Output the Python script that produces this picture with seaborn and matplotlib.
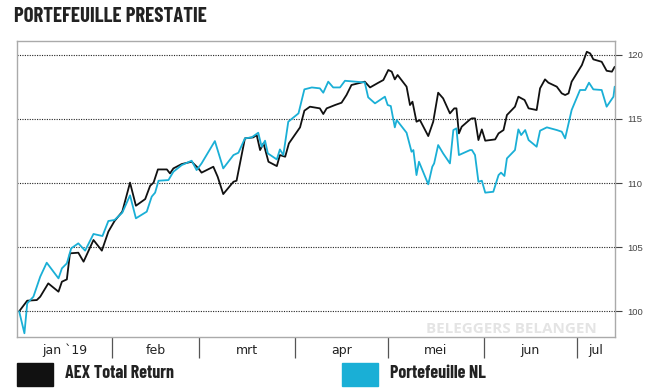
import pandas as pd
import numpy as np
import matplotlib
matplotlib.use('Agg')
import matplotlib.pyplot as plt
import matplotlib.dates as mdates
from matplotlib.patches import Rectangle
import seaborn as sns

START = pd.Timestamp('2019-01-01')

# days since 1 jan 2019 (line vertices), index values
aex_days = [1.0, 3.6, 6.7, 7.8, 10.4, 13.7, 14.8, 16.4, 17.4, 20.1, 21.8, 25.0, 27.7, 29.8,
            31.8, 34.3, 36.8, 38.7, 41.7, 43.3, 44.4, 45.8, 48.7, 49.7, 50.8, 53.5, 56.7,
            58.9, 59.9, 63.7, 65.1, 66.9, 70.2, 71.2, 73.9, 76.6, 77.7, 78.8, 79.9, 81.5,
            84.2, 85.2, 86.9, 88.1, 91.7, 93.1, 94.9, 98.1, 99.2, 100.3, 103.0, 105.1,
            106.7, 108.3, 112.6, 114.3, 117.0, 118.6, 120.2, 121.3, 122.3, 123.2, 126.1,
            127.2, 128.0, 129.3, 130.4, 133.1, 134.7, 136.3, 137.9, 140.1, 141.5, 142.2,
            143.0, 143.9, 146.6, 147.2, 148.2, 149.3, 150.4, 151.5, 154.7, 155.8, 157.4,
            158.5, 161.1, 162.2, 164.2, 165.5, 168.1, 169.2, 170.8, 171.9, 174.6, 176.2,
            177.3, 178.4, 179.4, 182.7, 184.3, 185.4, 186.4, 189.1, 190.7, 192.4, 193.3]
aex_values = [100.0, 100.83, 100.88, 101.14, 102.18, 101.53, 102.31, 102.49, 104.52, 104.57,
              103.87, 105.56, 104.73, 106.21, 107.04, 107.77, 110.03, 108.23, 108.75, 109.79,
              110.03, 111.06, 111.06, 110.75, 111.14, 111.48, 111.66, 111.14, 110.81, 111.27,
              110.49, 109.14, 110.10, 110.18, 113.48, 113.56, 113.74, 112.57, 113.09, 111.66,
              111.32, 112.18, 112.05, 113.09, 114.34, 115.64, 115.95, 115.82, 115.38, 115.82,
              116.08, 116.26, 116.86, 117.64, 117.90, 117.45, 117.82, 118.03, 118.81, 118.68,
              118.08, 118.42, 117.51, 116.08, 116.34, 114.78, 114.91, 113.66, 114.78, 117.04,
              116.60, 115.43, 115.82, 115.82, 113.87, 114.39, 114.96, 115.04, 115.04, 113.35,
              114.18, 113.30, 113.40, 113.87, 114.13, 115.30, 115.95, 116.73, 116.47, 115.82,
              115.69, 117.38, 118.08, 117.82, 117.51, 116.99, 116.86, 116.99, 117.90, 119.19,
              120.23, 120.10, 119.64, 119.45, 118.75, 118.68, 119.06]

nl_days = [1.0, 2.7, 3.6, 5.6, 7.8, 9.9, 13.7, 14.8, 16.4, 17.8, 20.1, 22.3, 25.0, 27.9,
           29.8, 31.8, 34.3, 36.8, 38.7, 42.2, 43.8, 44.9, 46.0, 49.2, 50.8, 53.5, 56.7,
           58.3, 59.9, 64.2, 66.9, 70.2, 71.8, 73.9, 76.1, 78.2, 79.3, 80.4, 81.3, 84.2,
           85.2, 86.3, 87.9, 91.2, 93.1, 95.5, 98.1, 99.2, 100.8, 102.4, 104.6, 106.2,
           112.6, 113.7, 115.9, 119.1, 120.0, 121.0, 122.3, 122.9, 126.1, 127.7, 128.3,
           129.3, 130.1, 133.1, 134.4, 135.0, 136.3, 137.9, 140.1, 141.2, 142.2, 143.0,
           146.6, 147.2, 148.2, 149.3, 150.4, 151.5, 154.1, 155.8, 156.6, 157.7, 158.5,
           161.1, 162.2, 163.1, 164.4, 165.5, 168.1, 169.2, 171.4, 174.6, 176.2, 177.3,
           179.4, 182.1, 183.8, 185.0, 186.4, 189.1, 190.7, 192.9, 193.3]
nl_values = [100.0, 98.29, 100.62, 101.14, 102.70, 103.79, 102.57, 103.35, 103.74, 104.91,
             105.30, 104.73, 106.03, 105.87, 107.04, 107.12, 107.69, 109.04, 107.25, 107.77,
             108.94, 109.25, 110.18, 110.23, 110.88, 111.40, 111.74, 111.01, 111.53, 113.27,
             111.14, 112.18, 112.36, 113.48, 113.56, 113.92, 112.83, 113.30, 112.31, 111.84,
             112.62, 112.18, 114.78, 115.43, 117.30, 117.45, 117.38, 117.04, 117.90, 117.45,
             117.45, 117.97, 117.84, 116.68, 116.21, 116.73, 116.08, 116.00, 114.34, 114.91,
             113.92, 112.44, 112.57, 110.62, 111.66, 109.90, 111.27, 111.53, 112.96, 112.31,
             111.53, 114.13, 114.26, 112.18, 112.57, 112.57, 112.18, 110.10, 110.18, 109.25,
             109.32, 110.62, 110.81, 110.55, 111.92, 112.57, 114.18, 113.74, 114.13, 113.35,
             112.83, 114.08, 114.34, 114.13, 114.00, 113.48, 115.69, 117.25, 117.25, 117.82,
             117.30, 117.25, 115.95, 116.73, 117.51]

series_names = ['AEX Total Return', 'Portefeuille NL']
series_colors = ['#111111', '#1aafd6']
month_labels = ['jan `19', 'feb', 'mrt', 'apr', 'mei', 'jun', 'jul']
y_ticks = [100, 105, 110, 115, 120]

df = pd.concat([
    pd.DataFrame({'datum': START + pd.to_timedelta(aex_days, unit='D'),
                  'waarde': aex_values, 'reeks': series_names[0]}),
    pd.DataFrame({'datum': START + pd.to_timedelta(nl_days, unit='D'),
                  'waarde': nl_values, 'reeks': series_names[1]}),
])

sns.set_theme(style='white')
plt.rcParams['font.family'] = ['Barlow Condensed', 'Liberation Sans', 'DejaVu Sans']

fig = plt.figure(figsize=(6.48, 3.91), dpi=100)
ax = fig.add_axes([17.3 / 648, 1 - 337 / 391, (615 - 17.3) / 648, (337 - 41) / 391])

sns.lineplot(data=df, x='datum', y='waarde', hue='reeks',
             palette=dict(zip(series_names, series_colors)),
             estimator=None, sort=False, linewidth=1.3, legend=False, ax=ax)

# x axis: months, labels centred between separators
x0 = START + pd.Timedelta(days=0.4)
x1 = START + pd.Timedelta(days=193.4)
ax.set_xlim(x0, x1)
bounds = pd.date_range('2019-02-01', '2019-07-01', freq='MS')
edges = mdates.date2num([x0] + list(bounds) + [x1])
mids = (edges[:-1] + edges[1:]) / 2
ax.set_xticks(mids)
ax.set_xticklabels(month_labels, fontsize=9, color='#222222', family=['DejaVu Sans'])
ax.set_xticks(mdates.date2num(bounds), minor=True)
ax.tick_params(axis='x', which='major', length=0, pad=5)
ax.tick_params(axis='x', which='minor', length=15, width=0.9, color='#555555', bottom=True)

# y axis on the right
ax.set_ylim(98.0, 121.07)
ax.yaxis.tick_right()
ax.set_yticks(y_ticks)
ax.tick_params(axis='y', length=5, width=0.8, color='#444444', labelsize=6.8,
               labelcolor='#444444', labelfontfamily='Liberation Sans', pad=4, right=True)
ax.grid(axis='y', linestyle=(0, (1, 1.2)), color='#222222', linewidth=0.8)
ax.grid(axis='x', visible=False)
ax.set_xlabel('')
ax.set_ylabel('')
for s in ax.spines.values():
    s.set_color('#aaaaaa')
    s.set_linewidth(1.0)

ax.text(0.97, 0.0145, 'BELEGGERS BELANGEN', transform=ax.transAxes, ha='right', va='baseline',
        color='#e4e4e4', fontsize=11, fontweight='bold',
        family=['Open Sans', 'Liberation Sans', 'DejaVu Sans'])

fig.text(14 / 648, 1 - 7 / 391, 'PORTEFEUILLE PRESTATIE', ha='left', va='top',
         fontsize=15, fontweight='bold', color='#222222')

# legend
legend_x = [17, 342]
for x, name, col in zip(legend_x, series_names, series_colors):
    fig.add_artist(Rectangle((x / 648, 1 - 386 / 391), 36 / 648, 23 / 391,
                             transform=fig.transFigure, color=col))
    fig.text((x + 48) / 648, 1 - 374 / 391, name, ha='left', va='center',
             fontsize=13, fontweight='bold', color='#222222')

plt.savefig('out.png', dpi=100)
